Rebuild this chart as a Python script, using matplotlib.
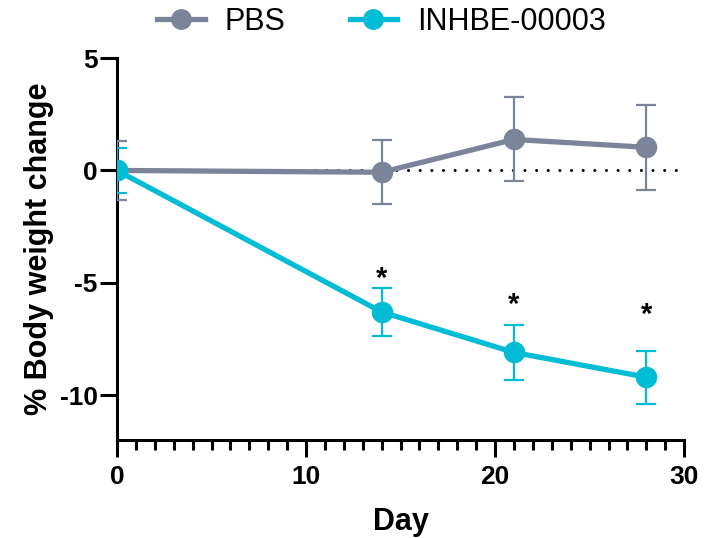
import matplotlib
matplotlib.use("Agg")
import matplotlib.pyplot as plt
from matplotlib.ticker import MultipleLocator
from matplotlib.lines import Line2D

days = [0, 14, 21, 28]
pbs_mean = [0.0, -0.08, 1.38, 1.03]
pbs_err = [1.33, 1.42, 1.87, 1.9]
inh_mean = [0.0, -6.3, -8.1, -9.2]
inh_err = [1.0, 1.07, 1.22, 1.18]
star_days = [14, 21, 28]
star_y = [-4.82, -5.97, -6.42]
labels = ["PBS", "INHBE-00003"]

plt.rcParams['font.family'] = ['Liberation Sans', 'DejaVu Sans']

grey = '#7b8499'
cyan = '#00bcd4'
colors = [grey, cyan]

fig = plt.figure(figsize=(7.09, 5.38), dpi=100)
ax = fig.add_axes([0.165, 0.182, 0.80, 0.71])

ax.plot([0, 30], [0, 0], color='black', lw=2.2, linestyle=(0, (0.01, 3.8)),
        dash_capstyle='round', zorder=1, clip_on=False)

for m, e, c in [(pbs_mean, pbs_err, grey), (inh_mean, inh_err, cyan)]:
    ax.errorbar(days, m, yerr=e, color=c, lw=3.8, marker='o', markersize=14.5,
                ecolor=c, elinewidth=1.6, capsize=7.5, capthick=1.6, zorder=3)

for d, y in zip(star_days, star_y):
    ax.text(d, y, '*', ha='center', va='center', fontsize=21, fontweight='bold')

ax.set_xlim(0, 30)
ax.set_ylim(-12, 5)
ax.spines['top'].set_visible(False)
ax.spines['right'].set_visible(False)
ax.spines['left'].set_linewidth(2.2)
ax.spines['bottom'].set_linewidth(2.2)

ax.set_yticks([5, 0, -5, -10])
ax.set_yticklabels(['5', '0', '-5', '-10'])
ax.xaxis.set_major_locator(MultipleLocator(10))
ax.xaxis.set_minor_locator(MultipleLocator(1))
ax.tick_params(axis='both', which='major', direction='out', length=12, width=2.2,
               labelsize=19)
ax.tick_params(axis='x', which='major', pad=6)
ax.tick_params(axis='y', which='major', pad=2)
ax.tick_params(axis='x', which='minor', direction='out', length=7, width=2.2)
for lbl in ax.get_xticklabels() + ax.get_yticklabels():
    lbl.set_fontweight('bold')

ax.set_xlabel('Day', fontsize=22, fontweight='bold', labelpad=13)
ax.set_ylabel('% Body weight change', fontsize=22, fontweight='bold', labelpad=4)

handles = [Line2D([], [], color=c, lw=3.8, marker='o', markersize=14) for c in colors]
fig.legend(handles, labels, loc='center', bbox_to_anchor=(0.538, 0.959), ncol=2,
           frameon=False, fontsize=22, handlelength=1.55, columnspacing=2.1,
           handletextpad=0.65, borderpad=0)

fig.savefig('out.png', dpi=100)
